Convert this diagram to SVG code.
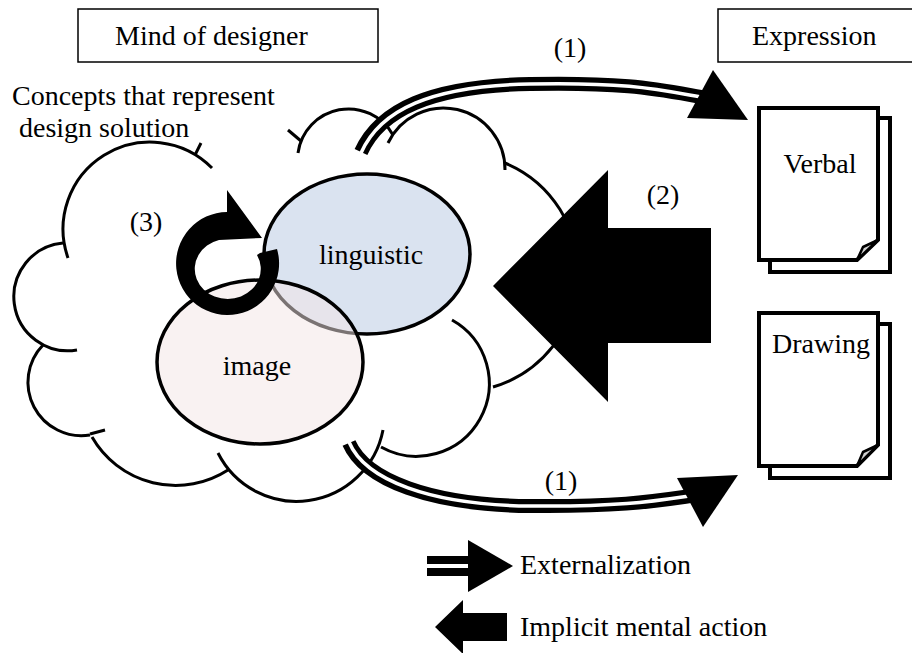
<svg xmlns="http://www.w3.org/2000/svg" width="912" height="653" viewBox="0 0 912 653">
<style>
text{font-family:"Liberation Serif","Times New Roman",serif;font-size:28px;fill:#000}
.box{fill:#fff;stroke:#000;stroke-width:1.5}
.cl{fill:none;stroke:#000;stroke-width:3;stroke-linecap:butt}
.page{fill:#fff;stroke:#000;stroke-width:4;stroke-linejoin:miter}
.fold{fill:#d0d0d0;stroke:#000;stroke-width:2.5;stroke-linejoin:round}
.dblo{fill:none;stroke:#000;stroke-width:14}
.dbli{fill:none;stroke:#fff;stroke-width:3.5}
</style>
<rect width="912" height="653" fill="#fff"/>

<g id="mind-box">
<rect class="box" x="78" y="9" width="300" height="53"/>
<text x="115" y="45">Mind of designer</text>
</g>

<g id="expression-box">
<rect class="box" x="718" y="9" width="210" height="53"/>
<text x="752" y="45">Expression</text>
</g>

<g id="cloud">
<path class="cl" d="M68,258 A87,87 0 0 1 212,168"/>
<path class="cl" d="M195,155 L201,143"/>
<path class="cl" d="M63,243 A54,54 0 1 0 77,350"/>
<path class="cl" d="M43,345 A53.5,53.5 0 0 0 90,435"/>
<path class="cl" d="M90,434 L105,430"/>
<path class="cl" d="M92,437 A96.5,96.5 0 0 0 228,470"/>
<path class="cl" d="M218,453 A88,88 0 0 0 383,430"/>
<path class="cl" d="M381,447 A72,72 0 1 0 452,320"/>
<path class="cl" d="M493,387 A119,119 0 0 0 505,163"/>
<path class="cl" d="M505,170 A61.5,61.5 0 0 0 388,143"/>
<path class="cl" d="M298,153 A51,51 0 0 1 393,135"/>
<path class="cl" d="M288,130 L301,141"/>
<text x="12" y="105">Concepts that represent</text>
<text x="19" y="137">design solution</text>
</g>

<g id="linguistic">
<ellipse cx="367" cy="254" rx="103" ry="80" fill="#dae3f0" stroke="#000" stroke-width="3.5"/>
<text x="371" y="264" text-anchor="middle">linguistic</text>
</g>

<g id="image">
<ellipse cx="260" cy="362" rx="103" ry="82" fill="#f3e5e5" fill-opacity="0.5" stroke="#000" stroke-width="3.5"/>
<text x="257" y="375" text-anchor="middle">image</text>
</g>

<g id="verbal-doc">
<rect class="page" x="770" y="118" width="120" height="154"/>
<path class="page" d="M759,108 H878 V240 L857,260 H759 Z"/>
<path class="fold" d="M857,260 L863,247 L878,240 Z"/>
<text x="820" y="173" text-anchor="middle">Verbal</text>
</g>

<g id="drawing-doc">
<rect class="page" x="770" y="324" width="120" height="154"/>
<path class="page" d="M759,313 H878 V445 L857,466 H759 Z"/>
<path class="fold" d="M857,466 L863,452 L878,445 Z"/>
<text x="821" y="353" text-anchor="middle">Drawing</text>
</g>

<g id="connectors">
<!-- (3) circular arrow -->
<path d="M277,249 A51.5,51.5 0 1 1 227,212 L227,190 L262,238 L219,240 A33,30 0 1 0 257,255 L260,253 Z" fill="#000"/>
<text x="146" y="231" text-anchor="middle">(3)</text>

<!-- (1) top externalization -->
<path class="dblo" d="M361,152 C380,110 430,86 530,84 C630,82 660,90 708,98"/>
<path class="dbli" d="M361,153 C380,110 430,86 530,84 C630,82 660,90 706,98"/>
<polygon points="713,70 748,120 687,118" fill="#000"/>
<text x="570" y="57" text-anchor="middle">(1)</text>

<!-- (1) bottom externalization -->
<path class="dblo" d="M349,443 C365,480 430,505 530,506 C630,507 660,500 705,494"/>
<path class="dbli" d="M349,442 C365,480 430,505 530,506 C630,507 660,500 703,494"/>
<polygon points="677,478 738,475 703,527" fill="#000"/>
<text x="561" y="490" text-anchor="middle">(1)</text>

<!-- (2) implicit mental action -->
<polygon points="493,286 608,170 608,228 711,228 711,343 608,343 608,402" fill="#000"/>
<text x="663" y="204" text-anchor="middle">(2)</text>
</g>

<g id="legend">
<rect x="427" y="556" width="46" height="8" fill="#000"/>
<rect x="427" y="568" width="46" height="8" fill="#000"/>
<polygon points="468,540 513,566 468,592" fill="#000"/>
<text x="520" y="574">Externalization</text>
<polygon points="435,627 463,600 463,613 507,613 507,641 463,641 463,654" fill="#000"/>
<text x="520" y="636">Implicit mental action</text>
</g>
</svg>
